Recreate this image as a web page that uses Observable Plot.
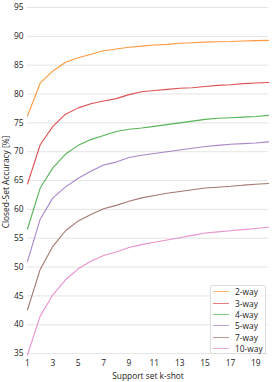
<!DOCTYPE html>
<html>
<head>
<meta charset="utf-8">
<script src="https://cdn.jsdelivr.net/npm/d3@7"></script>
<script src="https://cdn.jsdelivr.net/npm/@observablehq/plot@0.6"></script>
<style>
  body { margin: 0; background: #fff; }
  #wrap { position: relative; width: 273px; height: 382px; font-family: "Open Sans", sans-serif; }
  #legend { position: absolute; left: 210px; top: 285px; width: 56px; height: 69px; border: 1px solid #ddd; border-radius: 2px; background: rgba(255,255,255,0.85); box-sizing: border-box; padding: 0; }
  .row { display: flex; align-items: center; height: 11.4px; font-size: 8.4px; color: #222; white-space: nowrap; }
  .sw { width: 16px; height: 0; border-top: 1.8px solid; margin: 0 6.5px 0 1.5px; opacity: 0.6; flex: none; }
</style>
</head>
<body>
<div id="wrap"></div>
<script>
const kShots = [1,2,3,4,5,6,7,8,9,10,11,12,13,14,15,16,17,18,19,20];
const seriesNames = ["2-way","3-way","4-way","5-way","7-way","10-way"];
const seriesColors = ["#ff7f0e","#d62728","#2ca02c","#9467bd","#8c564b","#e377c2"];
const way2  = [76.2,81.9,84.0,85.5,86.3,86.9,87.5,87.8,88.1,88.3,88.5,88.6,88.8,88.9,89.0,89.05,89.1,89.2,89.25,89.3];
const way3  = [64.4,71.2,74.4,76.5,77.6,78.3,78.8,79.2,79.9,80.4,80.6,80.8,81.0,81.1,81.3,81.5,81.6,81.8,81.9,82.0];
const way4  = [56.6,63.7,67.2,69.6,71.1,72.1,72.8,73.5,73.9,74.1,74.4,74.7,75.0,75.3,75.6,75.8,75.9,76.0,76.1,76.3];
const way5  = [51.0,58.3,62.0,63.9,65.4,66.6,67.7,68.2,69.0,69.4,69.7,70.0,70.3,70.6,70.9,71.1,71.3,71.4,71.5,71.7];
const way7  = [42.6,49.6,53.6,56.3,58.0,59.1,60.1,60.7,61.4,62.0,62.4,62.8,63.1,63.4,63.7,63.85,64.0,64.2,64.35,64.5];
const way10 = [34.8,41.5,45.2,47.8,49.7,51.0,52.0,52.6,53.4,53.9,54.3,54.7,55.1,55.5,55.9,56.1,56.3,56.5,56.7,56.9];
const xTicks = [1,3,5,7,9,11,13,15,17,19];
const yTicks = [35,40,45,50,55,60,65,70,75,80,85,90,95];

const allSeries = [way2, way3, way4, way5, way7, way10];
const data = allSeries.flatMap((vals, i) => vals.map((v, j) => ({k: kShots[j], acc: v, s: seriesNames[i]})));

const chart = Plot.plot({
  width: 273,
  height: 382,
  marginTop: 7,
  marginLeft: 27,
  marginRight: 5,
  marginBottom: 26,
  style: { fontFamily: "'Open Sans', sans-serif", fontSize: "8.4px", color: "#222" },
  x: { domain: [1, 20] },
  y: { domain: [34.5, 95] },
  color: { domain: seriesNames, range: seriesColors },
  marks: [
    Plot.gridY(yTicks, { stroke: "#e4e4e4", strokeOpacity: 1, strokeWidth: 1 }),
    Plot.axisY(yTicks, { tickSize: 0, tickPadding: 4, label: "Closed-Set Accuracy [%]", labelAnchor: "center", labelArrow: "none" }),
    Plot.axisX(xTicks, { tickSize: 0, tickPadding: 4, label: "Support set k-shot", labelAnchor: "center", labelArrow: "none", labelOffset: 22 }),
    Plot.line(data, { x: "k", y: "acc", z: "s", stroke: "s", strokeWidth: 1.1, strokeOpacity: 0.8 })
  ]
});
const wrap = document.getElementById("wrap");
wrap.appendChild(chart);

const legend = document.createElement("div");
legend.id = "legend";
seriesNames.forEach((n, i) => {
  const row = document.createElement("div");
  row.className = "row";
  const sw = document.createElement("span");
  sw.className = "sw";
  sw.style.borderTopColor = seriesColors[i];
  const t = document.createElement("span");
  t.textContent = n;
  row.appendChild(sw); row.appendChild(t);
  legend.appendChild(row);
});
wrap.appendChild(legend);
</script>
</body>
</html>
